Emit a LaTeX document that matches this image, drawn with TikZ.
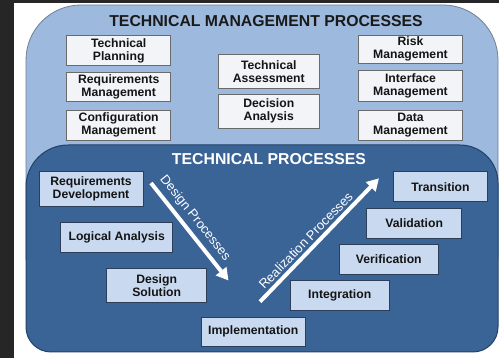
\documentclass[tikz,border=0pt]{standalone}
\usepackage{fontspec}
\setmainfont{Liberation Sans}
\usetikzlibrary{arrows.meta}
\definecolor{outerfill}{HTML}{9DB9DE}
\definecolor{outerline}{HTML}{6E7F96}
\definecolor{darkfill}{HTML}{3A6396}
\definecolor{darkline}{HTML}{22426A}
\definecolor{topbox}{HTML}{F2F4F8}
\definecolor{botbox}{HTML}{C9DAF0}
\definecolor{boxline}{HTML}{6A6A6A}
\definecolor{botline}{HTML}{2C3E58}
\definecolor{frame}{HTML}{262626}
\begin{document}
\begin{tikzpicture}[x=1pt,y=-1pt,
  tbox/.style={draw=boxline, fill=topbox, line width=0.8pt, align=center, inner sep=0pt,
    font=\fontsize{12.2}{13}\selectfont\bfseries, text=black!92},
  bbox/.style={draw=botline, fill=botbox, line width=0.8pt, align=center, inner sep=0pt,
    font=\fontsize{12.2}{13}\selectfont\bfseries, text=black!92},
  arrlabel/.style={text=white, font=\fontsize{13}{15}\selectfont, inner sep=0pt},
  bigarrow/.style={white, line width=4pt, -{Triangle[width=13pt,length=12pt]}},
  ttl/.style={font=\fontsize{15.8}{18}\selectfont\bfseries, inner sep=0pt}]
\useasboundingbox (0,0) rectangle (499,358);
\fill[white] (0,0) rectangle (499,358);
\fill[frame] (0,0) rectangle (14,358);
\fill[frame] (0,0) rectangle (499,3);
% outer management box
\draw[fill=outerfill, draw=outerline, line width=0.8pt]
  (26,260) -- (26,60) arc[start angle=180, end angle=90, radius=55pt]
  -- (443,5) arc[start angle=90, end angle=0, radius=55pt] -- (498,260) -- cycle;
% inner technical box
\draw[fill=darkfill, draw=darkline, line width=1pt]
  (26,327) -- (26,187) arc[start angle=180, end angle=90, radius=42pt]
  -- (460,145) arc[start angle=90, end angle=0, radius=38pt]
  -- (498,327) arc[start angle=0, end angle=-90, radius=25pt]
  -- (51,352) arc[start angle=270, end angle=180, radius=25pt] -- cycle;
% titles
\node[ttl, text=black!90] (t1) at (266,21.5) {TECHNICAL MANAGEMENT PROCESSES};
\node[ttl, text=white] (t2) at (269,159.5) {TECHNICAL PROCESSES};
% management boxes
\node[tbox, minimum width=104pt, minimum height=30pt] (tp) at (118.7,50.7) {Technical\\Planning};
\node[tbox, minimum width=104pt, minimum height=29.4pt] (rm) at (118.7,87) {Requirements\\Management};
\node[tbox, minimum width=104pt, minimum height=30pt] (cm) at (118.7,125) {Configuration\\Management};
\node[tbox, minimum width=101.5pt, minimum height=34pt] (ta) at (268.8,71.3) {Technical\\Assessment};
\node[tbox, minimum width=101.5pt, minimum height=34pt] (da) at (268.8,111.3) {Decision\\Analysis};
\node[tbox, minimum width=104.4pt, minimum height=28.3pt] (rk) at (410.5,49.2) {Risk\\Management};
\node[tbox, minimum width=104.4pt, minimum height=30.3pt] (im) at (410.5,85.8) {Interface\\Management};
\node[tbox, minimum width=104.4pt, minimum height=30.7pt] (dm) at (410.5,125.3) {Data\\Management};
% technical boxes
\node[bbox, minimum width=104pt, minimum height=35pt] (rd) at (91,189.2) {Requirements\\Development};
\node[bbox, minimum width=112pt, minimum height=30pt] (la) at (116.7,237.7) {Logical Analysis};
\node[bbox, minimum width=100pt, minimum height=34pt] (ds) at (156.7,285.3) {Design\\Solution};
\node[bbox, minimum width=103.3pt, minimum height=29.7pt] (ip) at (253.3,331.8) {Implementation};
\node[bbox, minimum width=99.3pt, minimum height=30.7pt] (ig) at (339.7,295.3) {Integration};
\node[bbox, minimum width=99pt, minimum height=30pt] (vf) at (388.8,259.3) {Verification};
\node[bbox, minimum width=95pt, minimum height=30pt] (vl) at (414.2,223.3) {Validation};
\node[bbox, minimum width=94.4pt, minimum height=30pt] (tr) at (440.5,186.7) {Transition};
% arrows
\coordinate (d1) at (151,183);
\coordinate (d2) at (228.5,280.5);
\coordinate (r1) at (260,301.7);
\coordinate (r2) at (379,178.3);
\draw[bigarrow] (d1) -- (d2);
\draw[bigarrow] (r1) -- (r2);
\node[arrlabel, rotate=-51.4] (dl) at (195,218.3) {Design Processes};
\node[arrlabel, rotate=46] (rl) at (305.7,240.5) {Realization Processes};
\end{tikzpicture}
\end{document}
